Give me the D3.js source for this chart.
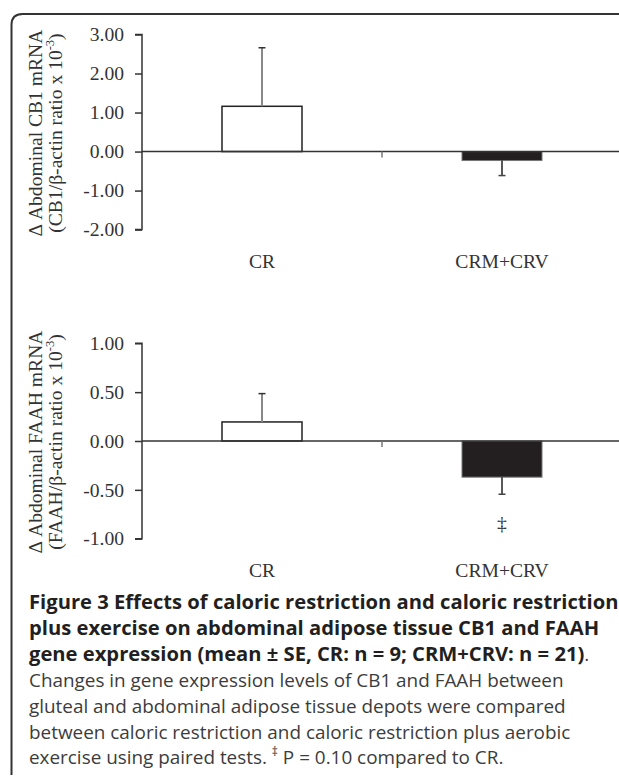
<!DOCTYPE html>
<html>
<head>
<meta charset="utf-8">
<script src="https://cdn.jsdelivr.net/npm/d3@7"></script>
<style>
  html, body { margin: 0; padding: 0; background: #fff; }
  svg { display: block; }
</style>
</head>
<body>
<svg id="chart" width="619" height="776"></svg>
<script>
// ---- data ----
const categories = ["CR", "CRM+CRV"];
const cb1Means = [1.16, -0.23];
const cb1SE = [1.50, 0.385];
const faahMeans = [0.195, -0.37];
const faahSE = [0.29, 0.175];
const cb1Ticks = [-2, -1, 0, 1, 2, 3];
const faahTicks = [-1, -0.5, 0, 0.5, 1];
const faahMarks = ["", "‡"];
const cb1Title = ["Δ Abdominal CB1 mRNA", "(CB1/β-actin ratio x 10"];
const faahTitle = ["Δ Abdominal FAAH mRNA", "(FAAH/β-actin ratio x 10"];
const captionLines = [
  [{t: "Figure 3 Effects of caloric restriction and caloric restriction", b: true}],
  [{t: "plus exercise on abdominal adipose tissue CB1 and FAAH", b: true}],
  [{t: "gene expression (mean ± SE, CR: n = 9; CRM+CRV: n = 21)", b: true}, {t: ".", b: false}],
  [{t: "Changes in gene expression levels of CB1 and FAAH between", b: false}],
  [{t: "gluteal and abdominal adipose tissue depots were compared", b: false}],
  [{t: "between caloric restriction and caloric restriction plus aerobic", b: false}],
  [{t: "exercise using paired tests. ", b: false}, {t: "‡", b: false, sup: true}, {t: " P = 0.10 compared to CR.", b: false, afterSup: true}]
];

const svg = d3.select("#chart");
const serif = "'Liberation Serif', 'Times New Roman', serif";
const sans = "'Open Sans', 'Noto Sans', sans-serif";
const fs = 19.6;

// frame
svg.append("path")
  .attr("d", "M11.5,775 V25 Q11.5,14 22.5,14 H625")
  .attr("fill", "none").attr("stroke", "#333").attr("stroke-width", 2);

const axisX = 142, endX = 622;
const x = d3.scaleBand().domain(categories).range([axisX, endX])
  .paddingInner(2/3).paddingOuter(1/3);
const step = x.step();

function panel(opts) {
  const {means, se, ticks, domain, yRange, title, marks} = opts;
  const y = d3.scaleLinear().domain(domain).range(yRange);
  const g = svg.append("g");

  categories.forEach((c, i) => {
    const v = means[i];
    const isCR = i === 0;
    g.append("rect")
      .attr("x", x(c)).attr("width", x.bandwidth())
      .attr("y", Math.min(y(v), y(0)))
      .attr("height", Math.abs(y(v) - y(0)))
      .attr("fill", isCR ? "#fff" : "#231f20")
      .attr("stroke", isCR ? "#222" : "#777")
      .attr("stroke-width", isCR ? 1.5 : 1);
    const cx = x(c) + x.bandwidth() / 2;
    const e = v >= 0 ? v + se[i] : v - se[i];
    g.append("line")
      .attr("x1", cx).attr("x2", cx)
      .attr("y1", y(v)).attr("y2", y(e))
      .attr("stroke", isCR ? "#888" : "#222")
      .attr("stroke-width", isCR ? 2 : 1.5);
    g.append("line")
      .attr("x1", cx - 3.5).attr("x2", cx + 3.5)
      .attr("y1", y(e)).attr("y2", y(e))
      .attr("stroke", isCR ? "#333" : "#444").attr("stroke-width", 1.5);
    if (marks && marks[i]) {
      g.append("text").attr("x", cx).attr("y", y(e) + 36)
        .attr("text-anchor", "middle")
        .attr("font-family", serif).attr("font-size", fs).attr("fill", "#333")
        .text(marks[i]);
    }
    g.append("text").attr("x", cx).attr("y", yRange[0] + 38.5)
      .attr("text-anchor", "middle")
      .attr("font-family", serif).attr("font-size", fs).attr("fill", "#333")
      .text(c);
  });

  g.append("line").attr("x1", axisX).attr("x2", endX)
    .attr("y1", y(0)).attr("y2", y(0))
    .attr("stroke", "#333").attr("stroke-width", 1.5);
  g.append("line").attr("x1", axisX + step).attr("x2", axisX + step)
    .attr("y1", y(0)).attr("y2", y(0) + 6)
    .attr("stroke", "#777").attr("stroke-width", 1.5);

  const ax = g.append("g").attr("transform", `translate(${axisX},0)`)
    .call(d3.axisLeft(y).tickValues(ticks).tickSize(7).tickPadding(11)
      .tickFormat(d => d.toFixed(2)));
  ax.select(".domain").attr("stroke", "#333").attr("stroke-width", 1.5)
    .attr("d", `M-7,${y(domain[1])}H0V${y(domain[0])}H-7`);
  ax.selectAll(".tick line").attr("stroke", "#333").attr("stroke-width", 1.5);
  ax.selectAll(".tick text").attr("font-family", serif).attr("font-size", fs)
    .attr("fill", "#333");

  const cy = (yRange[0] + yRange[1]) / 2 + 1;
  g.append("text").attr("transform", `translate(42,${cy}) rotate(-90)`)
    .attr("text-anchor", "middle")
    .attr("font-family", serif).attr("font-size", fs).attr("fill", "#333")
    .text(title[0]);
  const t2 = g.append("text").attr("transform", `translate(62,${cy}) rotate(-90)`)
    .attr("text-anchor", "middle")
    .attr("font-family", serif).attr("font-size", fs).attr("fill", "#333");
  t2.append("tspan").text(title[1]);
  t2.append("tspan").attr("font-size", 12.5).attr("dy", -8).text("-3");
  t2.append("tspan").attr("dy", 8).text(")");
}

panel({means: cb1Means, se: cb1SE, ticks: cb1Ticks, domain: [-2, 3],
  yRange: [229.6, 34.5], title: cb1Title});
panel({means: faahMeans, se: faahSE, ticks: faahTicks, domain: [-1, 1],
  yRange: [538.7, 343.3], title: faahTitle, marks: faahMarks});

// caption
captionLines.forEach((line, i) => {
  const t = svg.append("text").attr("x", 29).attr("y", 609 + i * 25.9)
    .attr("font-family", sans);
  line.forEach(seg => {
    const sp = t.append("tspan")
      .attr("font-weight", seg.b ? 700 : 400)
      .attr("font-size", seg.sup ? 12 : (seg.b ? 20.2 : 18.9))
      .attr("fill", seg.b ? "#231f20" : "#3c3c3c")
      .text(seg.t);
    if (seg.sup) sp.attr("dy", -8);
    if (seg.afterSup) sp.attr("dy", 8);
  });
});
</script>
</body>
</html>
